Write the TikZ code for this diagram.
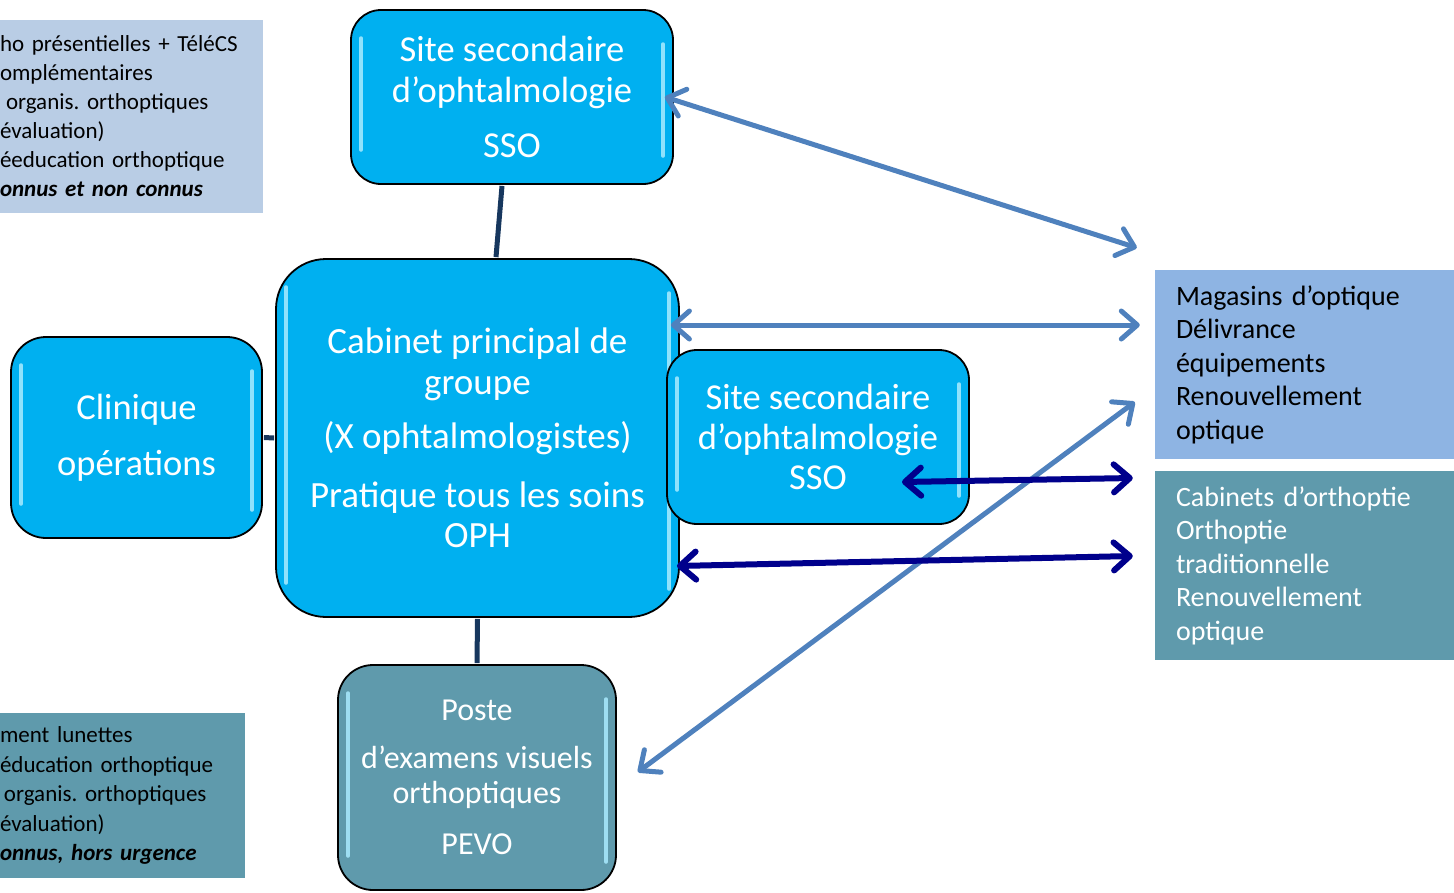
\documentclass[tikz,border=0pt]{standalone}
\usepackage{fontspec}
\setmainfont{Carlito}
\frenchspacing
\usetikzlibrary{arrows.meta,calc}
\definecolor{cyanbox}{RGB}{0,176,240}
\definecolor{tealbox}{RGB}{95,154,172}
\definecolor{lightbox}{RGB}{185,205,229}
\definecolor{magbox}{RGB}{142,180,227}
\definecolor{arrowlight}{RGB}{79,129,189}
\definecolor{arrownavy}{RGB}{0,0,140}
\definecolor{linknavy}{RGB}{23,55,94}
\definecolor{gleam}{RGB}{170,235,255}
\begin{document}
\begin{tikzpicture}[x=1pt,y=-1pt,
  glossy/.style={draw=black,line width=1.8pt,inner sep=0pt,text=white,align=center,
    path picture={
      \draw[gleam,line width=3.5pt,line cap=round,opacity=0.85]
        ($(path picture bounding box.north west)+(10,28)$) -- ($(path picture bounding box.south west)+(10,-34)$);
      \draw[gleam,line width=3.5pt,line cap=round,opacity=0.85]
        ($(path picture bounding box.north east)+(-10,34)$) -- ($(path picture bounding box.south east)+(-10,-28)$);
    }},
  sidebox/.style={inner ysep=0pt,inner xsep=0pt,align=left},
  biglight/.style={arrowlight,line width=5pt,
    {Straight Barb[length=16pt,width=28pt,round]}-{Straight Barb[length=16pt,width=28pt,round]}},
  bignavy/.style={arrownavy,line width=6pt,
    {Straight Barb[length=16pt,width=28pt,round]}-{Straight Barb[length=16pt,width=28pt,round]}},
  link/.style={linknavy,line width=5pt}
]
\useasboundingbox (0,0) rectangle (1454,892);

% side text boxes (left, cropped)
\node[sidebox,fill=lightbox,minimum width=263pt,minimum height=193pt,text width=263pt,
  font=\fontsize{23}{29}\selectfont] (tl) at (131.5,116.5)
  {ho présentielles + TéléCS\\
   omplémentaires\\
   \hspace*{6pt}organis. orthoptiques\\
   évaluation)\\
   éeducation orthoptique\\
   \textbf{\textit{onnus et non connus}}};

\node[sidebox,fill=tealbox,minimum width=245pt,minimum height=165pt,text width=245pt,
  font=\fontsize{23}{29.5}\selectfont] (bl) at (122.5,795.5)
  {ment lunettes\\
   éducation orthoptique\\
   \hspace*{4pt}organis. orthoptiques\\
   évaluation)\\
   \textbf{\textit{onnus, hors urgence}}};

% right boxes
\node[sidebox,fill=magbox,minimum width=299pt,minimum height=189pt,text width=257pt,inner xsep=21pt,
  font=\fontsize{28}{33.5}\selectfont,text=black] (mag) at (1304.5,364.5)
  {Magasins d’optique\\
   Délivrance\\
   équipements\\
   Renouvellement\\
   optique};

\node[sidebox,fill=tealbox,minimum width=299pt,minimum height=189pt,text width=257pt,inner xsep=21pt,
  font=\fontsize{28}{33.5}\selectfont,text=white] (cab) at (1304.5,565.5)
  {Cabinets d’orthoptie\\
   Orthoptie\\
   traditionnelle\\
   Renouvellement\\
   optique};

% main rounded nodes
\node[glossy,fill=cyanbox,rounded corners=30pt,minimum width=322pt,minimum height=174pt,
  font=\fontsize{36.5}{41}\selectfont] (sso1) at (512,97)
  {Site secondaire\\ d’ophtalmologie\\[14pt] SSO};

\node[glossy,fill=cyanbox,rounded corners=50pt,minimum width=403pt,minimum height=358pt,
  font=\fontsize{37}{40.5}\selectfont] (main) at (477.5,438)
  {Cabinet principal de\\ groupe\\[14pt] (X ophtalmologistes)\\[18pt] Pratique tous les soins\\ OPH};

\node[glossy,fill=cyanbox,rounded corners=35pt,minimum width=251pt,minimum height=201pt,
  font=\fontsize{36.5}{40}\selectfont] (clin) at (136.5,437.5)
  {Clinique\\[16pt] opérations};

\node[glossy,fill=cyanbox,rounded corners=30pt,minimum width=302pt,minimum height=174pt,
  font=\fontsize{36.5}{40}\selectfont] (sso2) at (818,437)
  {Site secondaire\\ d’ophtalmologie\\ SSO};

\node[glossy,fill=tealbox,rounded corners=35pt,minimum width=278pt,minimum height=225pt,
  font=\fontsize{32}{35}\selectfont] (pevo) at (477,777.5)
  {Poste\\[13pt] d’examens visuels\\ orthoptiques\\[16pt] PEVO};

% links between nodes
\draw[link] ($(sso1.south)+(-10,1)$) -- ($(main.north)+(18.5,-1)$);
\draw[link] ($(clin.east)+(1,0)$) -- ($(main.west)+(-1,0)$);
\draw[link] ($(main.south)+(0,1)$) -- ($(pevo.north)+(0,-1)$);

% arrows
\draw[biglight] ($(sso1.east)+(-9,0)$) -- ($(mag.north west)+(-18,-22)$);
\draw[biglight] ($(main.east)+(-9,-113)$) -- ($(mag.west)+(-15,-39.5)$);
\draw[biglight] ($(pevo.east)+(21,-5.5)$) -- ($(mag.west)+(-20,37.5)$);
\draw[bignavy] ($(sso2.center)+(84,45)$) -- ($(cab.west)+(-22,-87.5)$);
\draw[bignavy] ($(main.east)+(-3,128)$) -- ($(cab.west)+(-22,-9.5)$);
\end{tikzpicture}
\end{document}
